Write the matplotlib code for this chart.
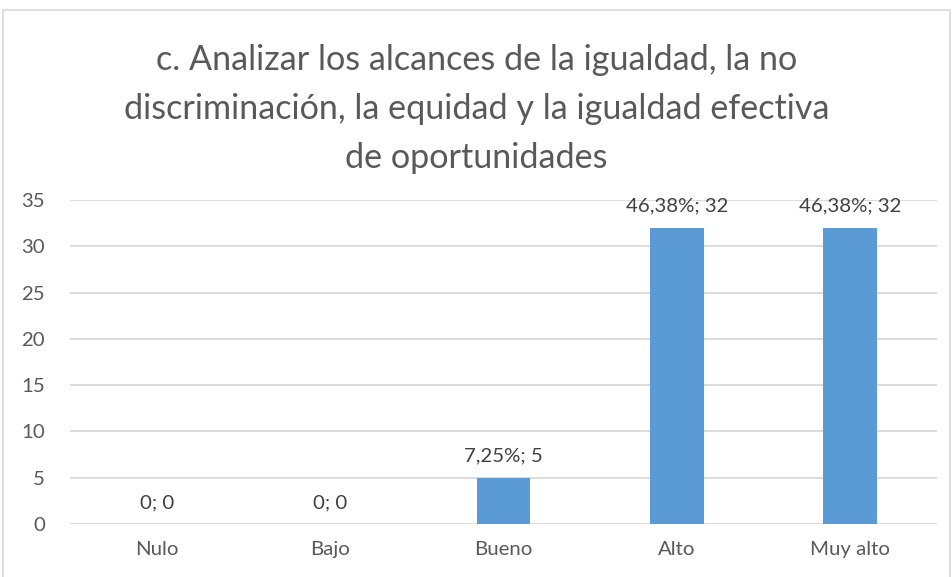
import matplotlib
matplotlib.use("Agg")
import matplotlib.pyplot as plt
from matplotlib.patches import Rectangle

categories = ["Nulo", "Bajo", "Bueno", "Alto", "Muy alto"]
values = [0, 0, 5, 32, 32]
labels = ["0; 0", "0; 0", "7,25%; 5", "46,38%; 32", "46,38%; 32"]
yticks = [0, 5, 10, 15, 20, 25, 30, 35]
title = "c. Analizar los alcances de la igualdad, la no\ndiscriminación, la equidad y la igualdad efectiva\nde oportunidades"

plt.rcParams['font.family'] = ['Lato', 'DejaVu Sans']
txt = '#595959'

fig = plt.figure(figsize=(9.53, 5.77), dpi=100)
ax = fig.add_axes([70/953, 53/577, 867/953, 324/577])

x = list(range(len(categories)))
ax.bar(x, values, width=0.31, color='#5B9BD5', zorder=3)
for xi, v, lab in zip(x, values, labels):
    ax.annotate(lab, (xi, v), xytext=(0, 11.5), textcoords='offset points',
                ha='center', va='baseline', fontsize=14.7, color='#404040')

ax.set_xlim(-0.5, len(categories) - 0.5)
ax.set_ylim(0, 35)
ax.set_yticks(yticks)
ax.set_xticks(x)
ax.set_xticklabels(categories)
ax.tick_params(axis='both', length=0, labelsize=14.7, labelcolor=txt)
ax.tick_params(axis='y', pad=18)
ax.tick_params(axis='x', pad=12)
ax.grid(axis='y', color='#D9D9D9', linewidth=1.3, zorder=0)
for s in ax.spines.values():
    s.set_visible(False)

fig.text(0.5, 1 - 109/577, title, ha='center', va='center', fontsize=24.6,
         color=txt, linespacing=1.64)

fig.patches.append(Rectangle((3/953, -0.05), 947/953, 1.05 - 10/577,
                             transform=fig.transFigure, fill=False,
                             edgecolor='#D9D9D9', linewidth=1.2))

fig.savefig("out.png", dpi=100)
